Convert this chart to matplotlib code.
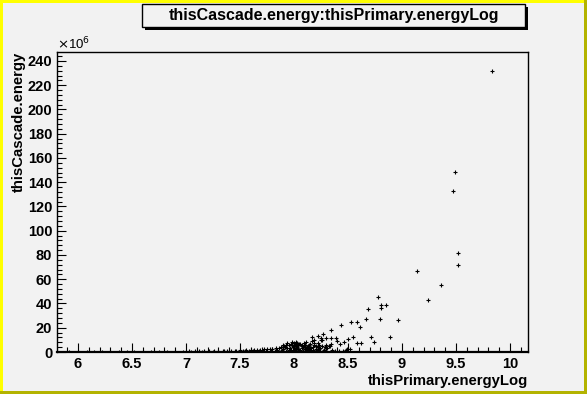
import matplotlib
matplotlib.use('Agg')
import matplotlib.pyplot as plt
from matplotlib.patches import Rectangle
from matplotlib.ticker import MultipleLocator

# ---------------- data (y in units of 1e6) ----------------
# isolated high-energy points
high_x = [9.83, 9.49, 9.47, 9.52, 9.52, 9.14, 9.36, 9.24, 8.78, 8.69, 8.81, 8.81,
          8.85, 8.67, 8.80, 8.96, 8.44, 8.53, 8.58, 8.61, 8.34, 8.71, 8.89, 8.74,
          8.50, 8.55, 8.58, 8.62, 8.17, 8.22, 8.27, 8.25, 8.30, 8.34, 8.39, 8.40,
          8.43, 8.46, 8.19, 8.25, 8.33, 8.49, 8.52]
high_y = [232, 148.5, 132.5, 81.6, 71.6, 66.8, 55, 42.6, 45, 35.5, 38.8, 36,
          38.8, 27, 27, 26, 22, 24.7, 24.7, 20.6, 18, 12.4, 12.4, 8.2,
          10.7, 12.0, 7.4, 7.4, 12.4, 13, 14.8, 11.5, 11.5, 11.5, 11.5, 9,
          6.6, 8.2, 9.9, 9.9, 5, 2.5, 2.5]

# dense cluster around log E ~ 7.9 - 8.35
clus_x = [7.90, 7.92, 7.94, 7.96, 7.98, 8.00, 8.01, 8.02, 8.03, 8.04, 8.05, 8.06,
          8.07, 8.08, 8.09, 8.10, 8.11, 8.12, 8.13, 8.14, 8.15, 8.16, 8.17, 8.18,
          8.19, 8.20, 8.21, 8.22, 8.23, 8.24, 8.26, 8.28, 8.30, 8.31, 8.32, 8.35,
          7.93, 7.97, 8.00, 8.04, 8.08, 8.12, 8.16, 8.20, 8.24, 8.28, 7.95, 8.02,
          8.06, 8.10, 8.14, 8.18, 8.22, 8.27, 8.38, 8.42, 8.45, 8.48,
          7.91, 7.93, 7.95, 7.97, 7.99, 8.01, 8.03, 8.05, 8.07, 8.09, 8.11, 8.13,
          7.90, 7.94, 7.98, 8.02, 8.06, 8.10, 8.14, 8.18, 8.22, 8.26, 8.30, 8.34,
          7.99, 8.03, 8.07, 8.11, 8.15, 8.19, 8.23, 8.29]
clus_y = [2.5, 4.0, 7.4, 3.0, 5.5, 7.4, 2.0, 8.5, 4.5, 5.8, 1.5, 7.0,
          3.0, 4.0, 6.0, 2.5, 8.0, 4.0, 5.0, 1.8, 6.6, 3.5, 9.0, 2.0,
          7.4, 5.0, 1.5, 4.0, 6.0, 3.0, 9.9, 2.0, 6.0, 3.3, 5.0, 1.5,
          1.0, 1.5, 1.0, 2.8, 1.0, 1.5, 1.0, 2.5, 1.2, 1.0, 5.5, 3.5,
          0.8, 6.0, 3.8, 0.8, 2.0, 0.8, 0.8, 1.2, 0.6, 1.5,
          5.0, 6.0, 2.0, 7.0, 4.0, 5.5, 3.0, 6.5, 5.0, 7.5, 3.0, 2.5,
          6.0, 3.5, 8.0, 6.0, 2.0, 4.5, 6.0, 4.5, 7.5, 5.0, 3.5, 7.0,
          1.8, 7.8, 5.5, 2.0, 3.0, 5.5, 2.5, 4.5]

# low-energy band (near zero)
band_x = [5.92, 6.00, 6.08, 6.15, 6.22, 6.30, 6.38, 6.45, 6.52, 6.60, 6.68, 6.75,
          6.82, 6.90, 6.97, 7.03, 7.08, 7.12, 7.17, 7.21, 7.26, 7.30, 7.34, 7.38,
          7.42, 7.46, 7.50, 7.53, 7.56, 7.60, 7.63, 7.66, 7.69, 7.72, 7.75, 7.78,
          7.80, 7.83, 7.86, 7.88, 7.05, 7.15, 7.25, 7.35, 7.45, 7.55, 7.62, 7.68,
          7.74, 7.79, 7.84, 7.89, 7.40, 7.58, 7.71, 7.82]
band_y = [0.0, 0.0, 0.0, 0.0, 0.0, 0.0, 0.0, 0.0, 0.05, 0.05, 0.05, 0.1,
          0.1, 0.1, 0.15, 0.5, 0.6, 0.5, 0.7, 0.6, 0.8, 0.9, 1.0, 0.9,
          1.1, 1.2, 1.3, 1.2, 1.5, 1.6, 1.8, 1.7, 2.0, 2.2, 2.4, 2.6,
          2.8, 3.0, 3.5, 4.0, 0.2, 0.3, 0.4, 0.5, 0.6, 0.7, 0.8, 0.9,
          1.0, 1.2, 1.4, 1.8, 0.3, 0.5, 0.6, 0.8]

xticks = [6, 6.5, 7, 7.5, 8, 8.5, 9, 9.5, 10]
xtick_labels = ['6', '6.5', '7', '7.5', '8', '8.5', '9', '9.5', '10']
yticks = [0, 20, 40, 60, 80, 100, 120, 140, 160, 180, 200, 220, 240]

title = 'thisCascade.energy:thisPrimary.energyLog'
xlabel = 'thisPrimary.energyLog'
ylabel = 'thisCascade.energy'

# ---------------- figure ----------------
W, H = 587, 394
BG = '#f2f2f2'
FONT = 'Liberation Sans'
fig = plt.figure(figsize=(W / 100, H / 100), dpi=100, facecolor=BG)


def frect(x0, y0, x1, y1, **kw):
    """rectangle given in pixel coords (y from top)"""
    r = Rectangle((x0 / W, 1 - y1 / H), (x1 - x0) / W, (y1 - y0) / H,
                  transform=fig.transFigure, **kw)
    fig.add_artist(r)
    return r


# canvas border (ROOT bevel)
frect(0, 0, W, 3, facecolor='#ffff00', edgecolor='none', zorder=0)
frect(0, 0, 2.5, H, facecolor='#ffff00', edgecolor='none', zorder=0)
frect(584, 0, W, H, facecolor='#b3b300', edgecolor='none', zorder=0)
frect(0, 391, W, H, facecolor='#b3b300', edgecolor='none', zorder=0)

L, R, T, B = 57, 528, 52, 352
ax = fig.add_axes([L / W, 1 - B / H, (R - L) / W, (B - T) / H], facecolor=BG)

ax.plot(band_x, band_y, '+', ms=3, mew=0.8, color='k', clip_on=True)
ax.plot(clus_x, clus_y, '+', ms=3, mew=0.8, color='k', clip_on=True)
ax.plot(high_x, high_y, '+', ms=3, mew=0.8, color='k', clip_on=True)

ax.set_xlim(5.806, 10.167)
ax.set_ylim(0, 247.4)
ax.set_xticks(xticks)
ax.set_xticklabels(xtick_labels)
ax.set_yticks(yticks)
ax.set_yticklabels([str(v) for v in yticks])
ax.xaxis.set_minor_locator(MultipleLocator(0.1))
ax.yaxis.set_minor_locator(MultipleLocator(4))
ax.tick_params(which='both', direction='in', top=False, right=False, width=0.8,
               color='k')
ax.tick_params(which='major', length=6.5, labelsize=10.5, pad=3.5)
ax.tick_params(which='minor', length=3.3)
for lab in ax.get_xticklabels() + ax.get_yticklabels():
    lab.set_fontweight('bold')
    lab.set_fontfamily(FONT)
for s in ax.spines.values():
    s.set_linewidth(1.0)
    s.set_color('k')
ax.spines['bottom'].set_linewidth(1.6)

# axis titles
fig.text(R / W, 1 - 381 / H, xlabel, ha='right', va='center', fontsize=10.7,
         fontweight='bold', family=FONT)
fig.text(18.5 / W, 1 - T / H, ylabel, ha='center', va='top', rotation=90,
         fontsize=10.7, fontweight='bold', family=FONT)
fig.text(57 / W, 1 - 44 / H, r'$\times$10$^{6}$', ha='left', va='center',
         fontsize=9.5, family=FONT)

# title box with shadow
frect(145, 7, 528, 30, facecolor='k', edgecolor='none', zorder=5)
frect(142, 4, 525, 27, facecolor=BG, edgecolor='k', linewidth=1, zorder=6)
fig.text(333.5 / W, 1 - 15.5 / H, title, ha='center', va='center', fontsize=11.5,
         fontweight='bold', family=FONT, zorder=7)

fig.savefig('out.png', dpi=100, facecolor=BG)
